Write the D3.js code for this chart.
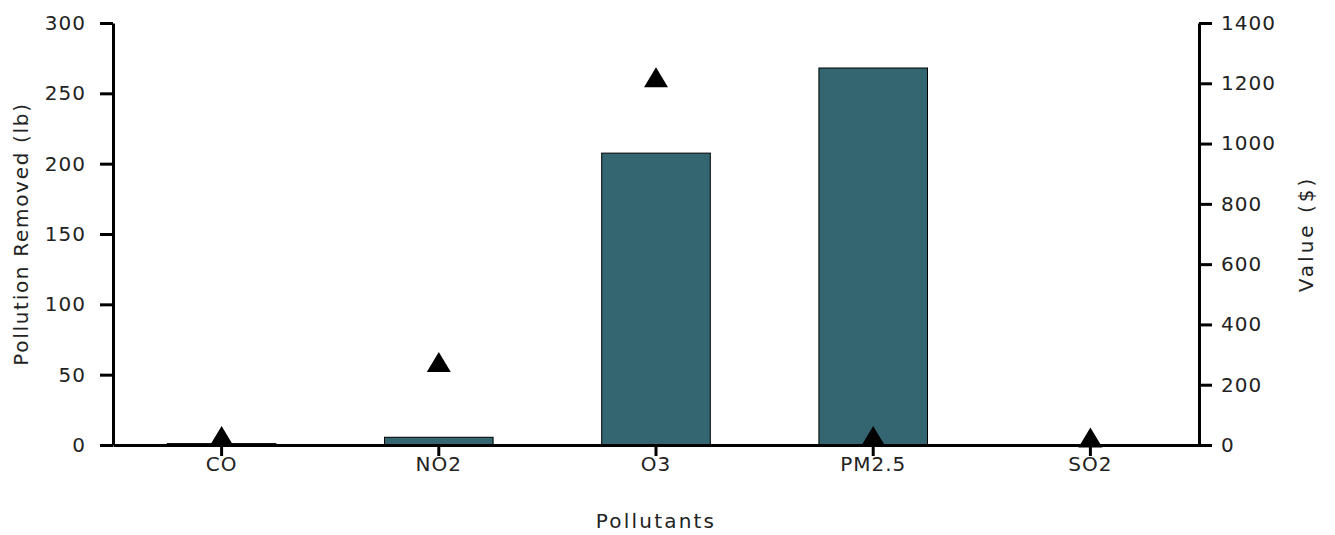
<!DOCTYPE html>
<html>
<head>
<meta charset="utf-8">
<script src="https://cdn.jsdelivr.net/npm/d3@7"></script>
<style>
  html, body { margin: 0; padding: 0; background: #fff; }
  svg text { font-family: "DejaVu Sans", Verdana, sans-serif; fill: #222; }
</style>
</head>
<body>
<svg id="chart" width="1335" height="535"></svg>
<script>
const categories = ["CO", "NO2", "O3", "PM2.5", "SO2"];
const removedLb = [1, 5.5, 207.5, 268, 0.3];
const valueUsd = [30, 275, 1220, 30, 25];
const leftTicks = [0, 50, 100, 150, 200, 250, 300];
const rightTicks = [0, 200, 400, 600, 800, 1000, 1200, 1400];

const svg = d3.select("#chart");
const x0 = 113, x1 = 1199, y0 = 445, y1 = 23;

const x = d3.scaleBand().domain(categories).range([x0, x1]).paddingInner(0).paddingOuter(0);
const yL = d3.scaleLinear().domain([0, 300]).range([y0, y1]);
const yR = d3.scaleLinear().domain([0, 1400]).range([y0, y1]);

// bars
const bw = x.bandwidth() * 0.5;
svg.append("g").selectAll("rect").data(categories).join("rect")
  .attr("x", d => x(d) + (x.bandwidth() - bw) / 2)
  .attr("width", bw)
  .attr("y", (d, i) => yL(removedLb[i]))
  .attr("height", (d, i) => y0 - yL(removedLb[i]))
  .attr("fill", "#336670")
  .attr("stroke", "#000")
  .attr("stroke-width", 1);

function styleAxis(g) {
  g.selectAll(".domain").attr("stroke", "#000").attr("stroke-width", 3);
  g.selectAll(".tick line").attr("stroke", "#000").attr("stroke-width", 3);
  g.selectAll(".tick text").attr("font-size", 20).attr("letter-spacing", 1).attr("fill", "#222");
}

// x axis
svg.append("g").attr("transform", `translate(0,${y0})`)
  .call(d3.axisBottom(x).tickSizeInner(11).tickSizeOuter(0).tickPadding(1))
  .call(styleAxis);

// left axis
svg.append("g").attr("transform", `translate(${x0},0)`)
  .call(d3.axisLeft(yL).tickValues(leftTicks).tickFormat(d3.format("d")).tickSizeInner(13).tickSizeOuter(0).tickPadding(14))
  .call(styleAxis);

// right axis
svg.append("g").attr("transform", `translate(${x1},0)`)
  .call(d3.axisRight(yR).tickValues(rightTicks).tickFormat(d3.format("d")).tickSizeInner(13).tickSizeOuter(0).tickPadding(9))
  .call(styleAxis);

// triangles
const tri = {
  draw(ctx, size) {
    const w = 24, h = 20;
    ctx.moveTo(0, -h / 2);
    ctx.lineTo(w / 2, h / 2);
    ctx.lineTo(-w / 2, h / 2);
    ctx.closePath();
  }
};
svg.append("g").selectAll("path").data(categories).join("path")
  .attr("d", d3.symbol().type(tri))
  .attr("transform", (d, i) => `translate(${x(d) + x.bandwidth() / 2},${yR(valueUsd[i])})`)
  .attr("fill", "#000");

// titles
svg.append("text")
  .attr("x", (x0 + x1) / 2).attr("y", 528)
  .attr("text-anchor", "middle").attr("font-size", 20).attr("letter-spacing", 2.2)
  .text("Pollutants");
svg.append("text")
  .attr("transform", `translate(28,${(y0 + y1) / 2}) rotate(-90)`)
  .attr("text-anchor", "middle").attr("font-size", 20).attr("letter-spacing", 1.7)
  .text("Pollution Removed (lb)");
svg.append("text")
  .attr("transform", `translate(1313,${(y0 + y1) / 2}) rotate(-90)`)
  .attr("text-anchor", "middle").attr("font-size", 20).attr("letter-spacing", 3)
  .text("Value ($)");
</script>
</body>
</html>
